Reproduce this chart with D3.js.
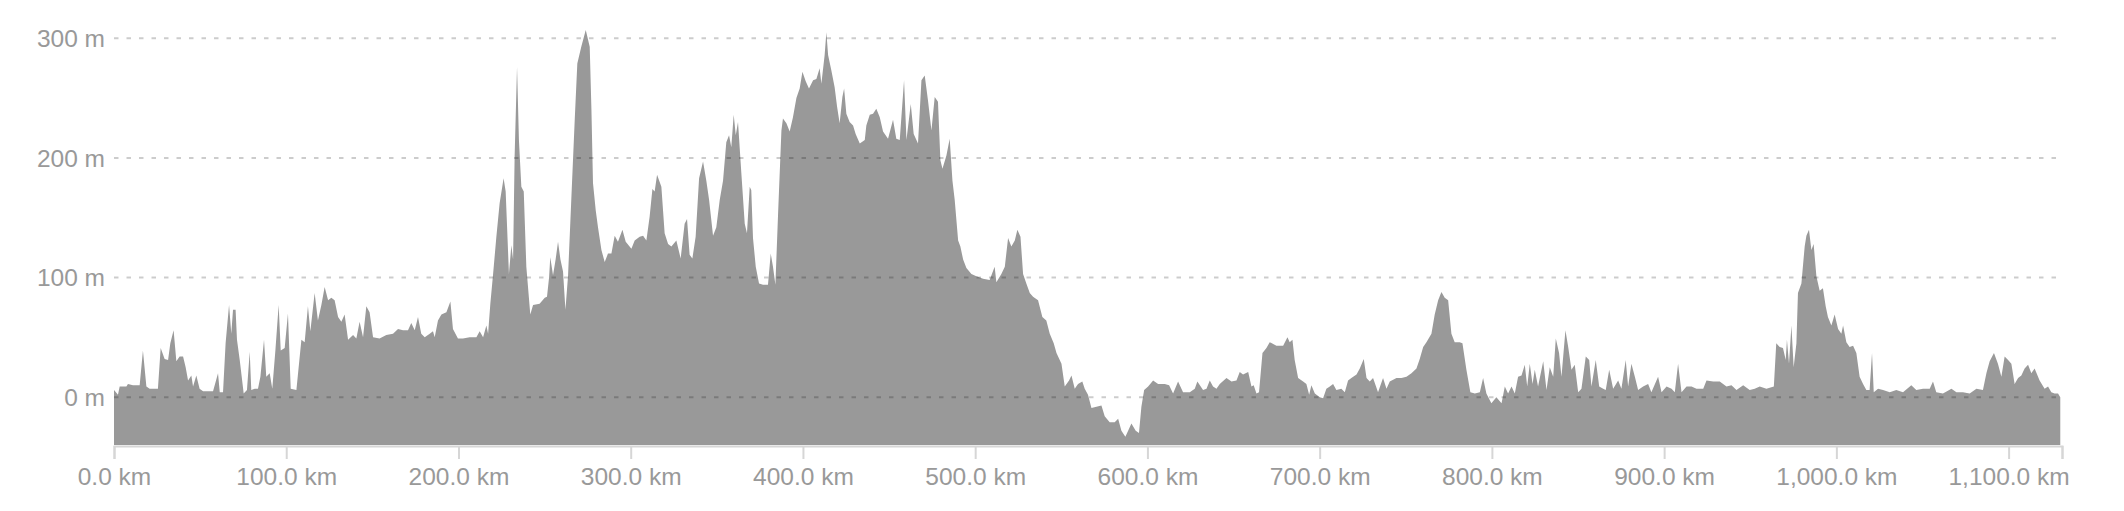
<!DOCTYPE html>
<html>
<head>
<meta charset="utf-8">
<script src="https://cdn.jsdelivr.net/npm/d3@7"></script>
<style>
  html, body { margin: 0; padding: 0; background: #fff; }
  svg { display: block; }
  text { font-family: "Liberation Sans", Arial, Helvetica, sans-serif; fill: #999; }
</style>
</head>
<body>
<svg id="chart" width="2124" height="511"></svg>
<script>
// Elevation profile: [distance km, elevation m]
const elevationProfile = [
[0,6],[2.3,2],[3.3,9],[7.2,9],[8.1,11],[11,10],[14.9,10],[16.8,39],[18.8,9],[20.7,7],[25.5,7],[27.1,41],[29.4,32],[31.4,31],[32.7,45],[34.6,56],[36.2,30],[38.1,34],[40.1,34],[41.6,25],[43,14],[44.9,18],[45.9,9],[47.8,18],[49.7,7],[51.7,5],[57.5,5],[60.4,20],[61.4,4],[63.3,4],[64.8,45],[66.8,77],[68.1,53],[69.1,73],[70.6,73],[71.4,48],[73,31],[75.3,3],[77.2,6],[78.8,38],[79.7,6],[81.7,7],[83.6,7],[85,17],[87.1,48],[88.4,17],[90.4,20],[91.9,7],[93.7,39],[95.6,77],[96.8,39],[99.1,41],[101,70],[102.6,7],[105.9,6],[108.8,48],[110.7,46],[112.6,76],[114,55],[116.5,87],[118.4,64],[120.4,77],[122.3,92],[124.3,81],[126.2,83],[128.1,81],[130.1,67],[132,63],[133.9,69],[135.9,48],[138.8,52],[140.7,49],[142.6,63],[144.6,50],[146.5,76],[148.4,71],[150.4,50],[154.2,49],[158.1,52],[162,53],[164.9,57],[167.8,56],[170.7,56],[172.6,62],[174.6,56],[176.5,67],[178.4,53],[180.4,50],[183.3,53],[185.2,55],[186.2,50],[188.1,64],[190.1,69],[193,71],[195.3,80],[196.8,57],[199.7,49],[202.6,49],[206.5,50],[210.4,50],[212.3,55],[214.3,50],[216.2,60],[217.2,53],[218.5,78],[220.1,103],[222,134],[223.9,162],[226.2,183],[227.4,172],[229.3,103],[230.7,127],[231.7,115],[232.6,201],[234,276],[235.1,215],[236.5,176],[237.9,172],[239.4,109],[241.7,69],[243.3,77],[247.1,78],[250.1,83],
[251.4,84],[252.6,100],[253.3,117],[254.9,102],[256.4,115],[257.8,130],[259.2,115],[260.7,105],[262.1,73],[263.6,101],[265.5,165],[267.5,232],[269,279],[271.3,293],[273.9,307],[276.2,293],[277.2,240],[278.1,179],[279.7,156],[281,142],[283,123],[284.9,113],[286.8,120],[288.8,120],[290.7,135],[292.6,130],[295.2,140],[297.1,130],[300.4,124],[302.3,131],[305.2,134],[307.2,135],[309.1,131],[311,151],[312.6,174],[313.9,172],[315.3,186],[317.8,176],[319.7,137],[321.7,128],[323.6,126],[326.5,131],[329,116],[331.3,145],[332.7,149],[334.2,119],[335.8,116],[337.7,134],[339.7,183],[342,197],[343.9,181],[345.5,165],[347.8,135],[349.7,142],[351.7,165],[353.6,181],[355.5,213],[357.1,219],[358.4,209],[359.8,236],[361,219],[362.3,230],[364.2,188],[366.2,145],[367.5,137],[369.1,176],[370,173],[371,133],[372.6,109],[374.5,95],[376.8,94],[379.7,94],[381.3,120],[382.6,109],[384,94],[385.5,151],[387.5,223],[388.4,233],[390.4,229],[392.3,222],[394.2,234],[396.2,250],[398.1,258],[399.7,272],[401.6,264],[403.5,258],[405.9,265],[407.8,266],[409.7,275],[410.7,262],[412.6,286],[413.6,305],[414.6,286],[416.5,273],[418.4,259],[419.8,243],[421.3,229],[422.9,251],[423.9,258],[425.2,237],[427.1,230],[429.1,227],[430.6,220],[433,212],[435.9,215],[436.8,227],[438.8,236],[440.7,237],[442.6,241],[444.6,234],[446.5,222],[449.4,216],[452.3,232],[454.2,216],
[456.2,215],[458.7,265],[460.1,215],[462.6,245],[464.3,220],[466.8,212],[468.8,265],[470.7,269],[472.6,248],[474.6,223],[476.5,251],[478.4,247],[479.8,198],[481,191],[483.3,202],[485.2,216],[486.8,181],[488.1,165],[490.1,131],[491.4,126],[493,115],[494.9,108],[497.8,103],[500.7,101],[504.6,99],[508.4,98],[511.3,109],[512.3,96],[515.2,103],[517.2,109],[519.1,133],[521,126],[523,131],[524.5,140],[526.3,134],[527.8,103],[529.7,95],[531.7,87],[533.6,84],[536.5,81],[539,67],[541.3,64],[543.3,53],[545.6,45],[547.2,37],[550.1,28],[552,9],[554.5,14],[555.9,18],[557.8,7],[559.7,11],[562.2,13],[563.6,7],[565.5,2],[567.5,-9],[570.4,-8],[573.3,-7],[575.2,-16],[578.1,-21],[581,-21],[583,-18],[584.9,-28],[587.2,-33],[588.8,-28],[590.7,-22],[593.2,-28],[595.1,-30],[596.5,-8],[598.1,6],[600.4,9],[603.3,14],[606.2,11],[610.1,11],[612.6,10],[614.9,3],[617.8,13],[620.7,4],[624.6,4],[627.5,7],[629,13],
[632.3,6],[634.3,7],[636.2,14],[638.1,9],[640.1,7],[642,11],[645.9,16],[648.8,13],[651.7,14],[653.6,21],[655.5,19],[658.5,21],[660.4,9],[661.7,10],[663.3,3],[664.8,4],[666.8,37],[669.1,41],[671,46],[674.9,43],[678.8,43],[681.3,50],[682.6,46],[684.2,48],[685.5,31],[687.5,16],[690.4,13],[692.3,11],[693.9,2],[695.2,10],[697.2,3],[700.1,0],[702,-1],[703.9,7],[705.9,9],[707.8,11],[709.7,6],[712.6,7],[714.6,4],[716.5,14],[718.4,16],[721.4,19],[723.3,24],[725.6,32],[727.2,16],[729.1,13],[731,16],[733.9,4],[736.8,16],[738.8,7],[740.7,13],[744.6,16],[747.5,16],[750.4,17],[753.3,20],[756.2,24],[758.1,32],[760.1,42],[762,46],[764.9,53],[766.8,69],[768.8,81],[770.7,88],[772.6,83],[774.6,81],[776.5,53],[778.4,46],[781.3,46],[782.9,45],[785.2,23],[787.5,4],[790.1,3],[793,4],[794.9,16],[796.8,3],[799.7,-5],[802.6,0],
[805.6,-5],[807.5,9],[809.4,3],[811.4,9],[813.3,3],[815.2,17],[817.2,18],[819.1,27],[820.5,9],[822,28],[823.6,11],[824.9,23],[826.8,9],[829.8,30],[831.7,6],[833.6,25],[835.6,17],[837.1,49],[839,37],[840.4,17],[842.7,56],[844.3,42],[846.2,23],[848.1,27],[850.1,4],[852,7],[854.5,34],[856.5,31],[857.8,9],[860.3,31],[862.3,9],[864.6,7],[866.1,6],[868.1,23],[870.4,7],[873.3,14],[875.2,7],[877.7,31],[879.1,9],[881,28],[883,17],[884.9,6],[887.8,9],[890.7,11],[892.6,4],[896.5,17],[898.5,4],[901.4,9],[904.3,7],[906.2,4],[908.1,28],[910.1,4],[913,9],[915.9,9],[918.8,7],[922.7,7],[924.6,14],[928.5,13],[932.3,13],[936.2,9],[939.1,10],[942,6],[945.9,10],[949.7,6],[952.6,7],[955.5,9],[959.4,7],[963.7,9],
[965.1,45],[967.1,42],[969,41],[970.6,31],[971.3,48],[972.5,28],[973.9,60],[975.2,25],[976.8,45],[977.7,87],[979.7,95],[981.6,126],[982.6,135],[984.1,140],[985.5,123],[986.8,128],[988.4,101],[990.3,89],[992.2,91],[993.8,76],[995.1,67],[997.1,60],[999,69],[1001,57],[1002.9,53],[1003.9,60],[1005.8,46],[1007.7,42],[1009.7,43],[1011.6,37],[1013.5,17],[1015.5,11],[1017.4,6],[1019.3,6],[1020.7,37],[1021.7,4],[1024.2,7],[1027.1,6],[1031,4],[1034.8,6],[1038.7,4],[1043.5,10],[1046.4,6],[1050.3,7],[1054.2,7],[1056.1,13],[1058,4],[1061.9,3],[1066.8,7],[1069.7,4],[1073.5,4],[1077.4,3],[1081.3,7],[1085.1,6],[1087.1,20],[1089,30],[1091.5,37],[1093.8,28],[1095.8,17],[1097.7,34],[1099.7,31],[1101.6,28],[1103.5,11],[1105.5,16],[1107.4,18],[1109.3,24],[1111.3,27],[1113.2,20],[1115.1,24],[1118,14],[1120.9,7],[1122.9,9],[1124.8,4],[1126.7,3],[1128.7,3],[1130,0]
];
const xDomain = [0, 1131];
const yDomain = [-40, 300];
const xTickValues = [0, 100, 200, 300, 400, 500, 600, 700, 800, 900, 1000, 1100];
const yTickValues = [0, 100, 200, 300];

const svg = d3.select("#chart");
const x = d3.scaleLinear().domain(xDomain).range([114, 2062]);
const y = d3.scaleLinear().domain(yDomain).range([445, 38.3]);

const area = d3.area()
  .x(d => x(d[0]))
  .y0(y(yDomain[0]))
  .y1(d => y(d[1]));

svg.append("path")
  .datum(elevationProfile)
  .attr("d", area)
  .attr("fill", "#999");

// gridlines on top of area
const grid = svg.append("g");
grid.selectAll("line").data(yTickValues).join("line")
  .attr("x1", x(xDomain[0])).attr("x2", x(xDomain[1]))
  .attr("y1", d => y(d)).attr("y2", d => y(d))
  .attr("stroke", "rgba(0,0,0,0.2)")
  .attr("stroke-width", 2)
  .attr("stroke-dasharray", "4.5,8");

// y labels
svg.append("g").selectAll("text").data(yTickValues).join("text")
  .attr("x", 105).attr("y", d => y(d))
  .attr("dy", "0.36em")
  .attr("text-anchor", "end")
  .attr("font-size", 24.5)
  .text(d => d + " m");

// x axis
const xAxis = d3.axisBottom(x)
  .tickValues(xTickValues.concat([xDomain[1]]))
  .tickSize(13)
  .tickPadding(9)
  .tickFormat(d => xTickValues.includes(d) ? d3.format(",.1f")(d) + " km" : "");
const gx = svg.append("g").attr("transform", "translate(0,446)").call(xAxis);
gx.select(".domain").attr("stroke", "#d6d6d6").attr("stroke-width", 2);
gx.selectAll(".tick line").attr("stroke", "#d6d6d6").attr("stroke-width", 2);
gx.selectAll(".tick text")
  .attr("fill", "#999")
  .attr("font-size", 24.5)
  .attr("font-family", "'Liberation Sans', Arial, sans-serif");
</script>
</body>
</html>
